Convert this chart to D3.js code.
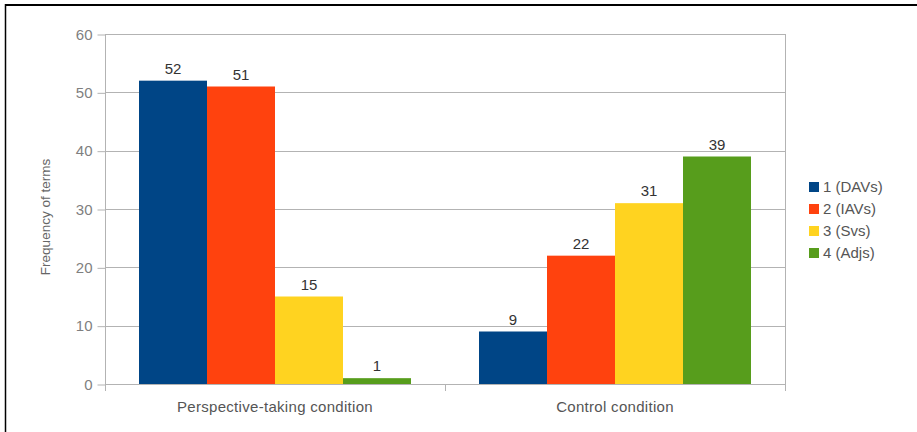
<!DOCTYPE html>
<html>
<head>
<meta charset="utf-8">
<script src="https://cdn.jsdelivr.net/npm/d3@7"></script>
<style>
  html, body { margin: 0; padding: 0; background: #fff; }
  svg { display: block; font-family: "Liberation Sans", Arial, sans-serif; }
</style>
</head>
<body>
<svg id="chart" width="917" height="432"></svg>
<script>
// Word-type frequencies per condition
const categories = ["Perspective-taking condition", "Control condition"];
const seriesNames = ["1 (DAVs)", "2 (IAVs)", "3 (Svs)", "4 (Adjs)"];
const seriesColors = ["#004586", "#ff420e", "#ffd320", "#579d1c"];
const davs = [52, 9];
const iavs = [51, 22];
const svs = [15, 31];
const adjs = [1, 39];
const yTicks = [0, 10, 20, 30, 40, 50, 60];

const seriesValues = [davs, iavs, svs, adjs];

const svg = d3.select("#chart");
const plot = { left: 105, right: 785, top: 34, bottom: 384 };

// frame lines (top and left edge)
svg.append("line").attr("x1", 5).attr("x2", 917).attr("y1", 5).attr("y2", 5)
  .attr("stroke", "#000").attr("stroke-width", 2);
svg.append("line").attr("x1", 5.5).attr("x2", 5.5).attr("y1", 4).attr("y2", 432)
  .attr("stroke", "#000").attr("stroke-width", 1.5);

const x0 = d3.scaleBand().domain(categories).range([plot.left, plot.right]).paddingInner(0).paddingOuter(0);
const x1 = d3.scaleBand().domain(seriesNames).range([0, x0.bandwidth()]).paddingOuter(0.5).paddingInner(0);
const y = d3.scaleLinear().domain([0, 60]).range([plot.bottom, plot.top]);

const gridColor = "#b3b3b3";

// horizontal gridlines
svg.append("g").selectAll("line").data(yTicks).join("line")
  .attr("x1", plot.left).attr("x2", plot.right)
  .attr("y1", d => Math.round(y(d)) + 0.5).attr("y2", d => Math.round(y(d)) + 0.5)
  .attr("stroke", gridColor).attr("stroke-width", 1);

// plot side borders
[plot.left, plot.right].forEach(xv => {
  svg.append("line").attr("x1", xv + 0.5).attr("x2", xv + 0.5)
    .attr("y1", plot.top).attr("y2", plot.bottom)
    .attr("stroke", gridColor);
});

// y axis
const yAxis = svg.append("g").attr("transform", `translate(${plot.left + 0.5},0.5)`)
  .call(d3.axisLeft(y).tickValues(yTicks).tickSize(8).tickPadding(5));
yAxis.select(".domain").remove();
yAxis.selectAll(".tick line").attr("stroke", gridColor);
yAxis.selectAll(".tick text").attr("fill", "#7f7f7f").style("font-size", "15px")
  .style("font-family", "\"Liberation Sans\", Arial, sans-serif");

// x axis: boundary ticks between categories
const bounds = [plot.left, plot.left + x0.bandwidth(), plot.right];
svg.append("g").selectAll("line").data(bounds).join("line")
  .attr("x1", d => d + 0.5).attr("x2", d => d + 0.5)
  .attr("y1", plot.bottom).attr("y2", plot.bottom + 7)
  .attr("stroke", gridColor);

// bars
const groups = svg.append("g").selectAll("g").data(categories).join("g")
  .attr("transform", d => `translate(${x0(d)},0)`);

groups.each(function(cat, ci) {
  const g = d3.select(this);
  seriesNames.forEach((s, si) => {
    const v = seriesValues[si][ci];
    g.append("rect")
      .attr("x", x1(s)).attr("width", x1.bandwidth())
      .attr("y", y(v)).attr("height", y(0) - y(v))
      .attr("fill", seriesColors[si]);
    g.append("text")
      .attr("x", x1(s) + x1.bandwidth() / 2).attr("y", y(v) - 7)
      .attr("text-anchor", "middle").attr("fill", "#333")
      .style("font-size", "15px").text(v);
  });
});

// category labels
svg.append("g").selectAll("text").data(categories).join("text")
  .attr("x", d => x0(d) + x0.bandwidth() / 2).attr("y", 412)
  .attr("text-anchor", "middle").attr("fill", "#555")
  .style("font-size", "15px").style("letter-spacing", "0.3px").text(d => d);

// y axis title
svg.append("text")
  .attr("transform", "translate(50,217) rotate(-90)")
  .attr("text-anchor", "middle").attr("fill", "#666")
  .style("font-size", "13.5px").text("Frequency of terms");

// legend
const legend = svg.append("g").selectAll("g").data(seriesNames).join("g")
  .attr("transform", (d, i) => `translate(809,${187 + i * 22})`);
legend.append("rect").attr("x", 0).attr("y", -5).attr("width", 10).attr("height", 10)
  .attr("fill", (d, i) => seriesColors[i]);
legend.append("text").attr("x", 14).attr("y", 0).attr("dy", "0.36em")
  .attr("fill", "#555").style("font-size", "15px").text(d => d);
</script>
</body>
</html>
